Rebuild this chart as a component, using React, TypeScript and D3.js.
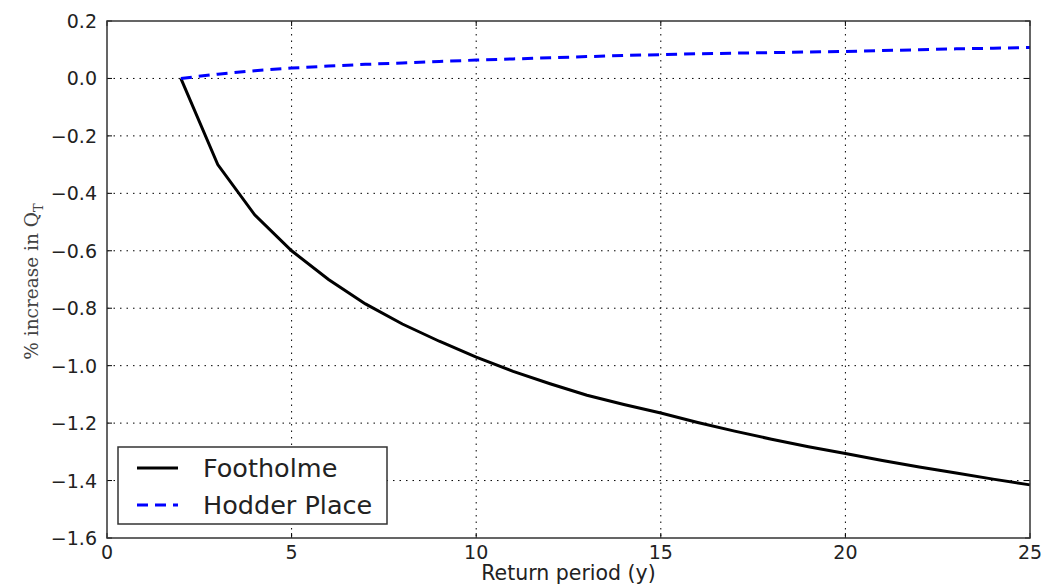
import React from "react";
import * as d3 from "d3";

const returnPeriods = [2, 3, 4, 5, 6, 7, 8, 9, 10, 11, 12, 13, 14, 15, 16, 17, 18, 19, 20, 21, 22, 23, 24, 25];
const footholme = [0, -0.3, -0.475, -0.6, -0.7, -0.785, -0.855, -0.915, -0.97, -1.02, -1.063, -1.103, -1.135, -1.165, -1.198, -1.228, -1.256, -1.282, -1.306, -1.33, -1.353, -1.374, -1.395, -1.415];
const hodderPlace = [0, 0.015, 0.027, 0.036, 0.043, 0.049, 0.054, 0.059, 0.064, 0.068, 0.072, 0.076, 0.08, 0.083, 0.086, 0.088, 0.09, 0.092, 0.094, 0.097, 0.1, 0.103, 0.105, 0.108];
const xTicks = [0, 5, 10, 15, 20, 25];
const yTicks = [0.2, 0.0, -0.2, -0.4, -0.6, -0.8, -1.0, -1.2, -1.4, -1.6];
const seriesNames = ["Footholme", "Hodder Place"];

const W = 1043, H = 588;
const left = 107, right = 1030, top = 21, bottom = 538;

export default function App() {
  const x = d3.scaleLinear().domain([0, 25]).range([left, right]);
  const y = d3.scaleLinear().domain([-1.6, 0.2]).range([bottom, top]);
  const line = d3.line<[number, number]>().x(d => x(d[0])).y(d => y(d[1]));
  const fPts: [number, number][] = returnPeriods.map((t, i) => [t, footholme[i]]);
  const hPts: [number, number][] = returnPeriods.map((t, i) => [t, hodderPlace[i]]);
  const tickFont = "DejaVu Sans, sans-serif";
  const fmt = (v: number) => {
    const s = v.toFixed(1);
    return v < 0 ? "\u2212" + s.slice(1) : s === "-0.0" ? "0.0" : s;
  };
  return (
    <svg width={W} height={H} style={{ position: "absolute", left: 0, top: 0, background: "#fff" }}>
      <rect x={0} y={0} width={W} height={H} fill="#fff" />
      {/* grid */}
      {xTicks.slice(1, -1).map(t => (
        <line key={"gx" + t} x1={x(t)} x2={x(t)} y1={top} y2={bottom} stroke="#000" strokeWidth={1} strokeDasharray="1.5,5" />
      ))}
      {yTicks.slice(1, -1).map(t => (
        <line key={"gy" + t} x1={left} x2={right} y1={y(t)} y2={y(t)} stroke="#000" strokeWidth={1} strokeDasharray="1.5,5" />
      ))}
      {/* ticks */}
      {xTicks.map(t => (
        <g key={"tx" + t}>
          <line x1={x(t)} x2={x(t)} y1={bottom} y2={bottom - 5} stroke="#000" />
          <line x1={x(t)} x2={x(t)} y1={top} y2={top + 5} stroke="#000" />
          <text x={x(t)} y={bottom + 21} textAnchor="middle" fontFamily={tickFont} fontSize={19} fill="#222">{t}</text>
        </g>
      ))}
      {yTicks.map(t => (
        <g key={"ty" + t}>
          <line x1={left} x2={left + 5} y1={y(t)} y2={y(t)} stroke="#000" />
          <line x1={right} x2={right - 5} y1={y(t)} y2={y(t)} stroke="#000" />
          <text x={left - 10} y={y(t) + 7} textAnchor="end" fontFamily={tickFont} fontSize={19} fill="#222">{fmt(t)}</text>
        </g>
      ))}
      {/* lines */}
      <path d={line(fPts) || ""} fill="none" stroke="#000" strokeWidth={3} />
      <path d={line(hPts) || ""} fill="none" stroke="#0000ff" strokeWidth={3} strokeDasharray="11,7" />
      {/* frame */}
      <rect x={left} y={top} width={right - left} height={bottom - top} fill="none" stroke="#333" strokeWidth={1.5} />
      {/* axis labels */}
      <text x={(left + right) / 2} y={580} textAnchor="middle" fontFamily={tickFont} fontSize={20.5} fill="#222">Return period (y)</text>
      <text transform={`translate(38, ${(top + bottom) / 2 + 2}) rotate(-90)`} textAnchor="middle" fontFamily="DejaVu Serif, serif" fontSize={18.5} fill="#444">
        % increase in Q<tspan dy={5} fontSize={13}>T</tspan>
      </text>
      {/* legend */}
      <rect x={118} y={447} width={269} height={77} fill="#fff" stroke="#333" strokeWidth={1.5} />
      <line x1={137} x2={178} y1={468} y2={468} stroke="#000" strokeWidth={3} />
      <line x1={137} x2={178} y1={505} y2={505} stroke="#0000ff" strokeWidth={3} strokeDasharray="11,7" />
      <text x={203} y={477} fontFamily={tickFont} fontSize={25.5} fill="#222">{seriesNames[0]}</text>
      <text x={203} y={514} fontFamily={tickFont} fontSize={25.5} fill="#222">{seriesNames[1]}</text>
    </svg>
  );
}
